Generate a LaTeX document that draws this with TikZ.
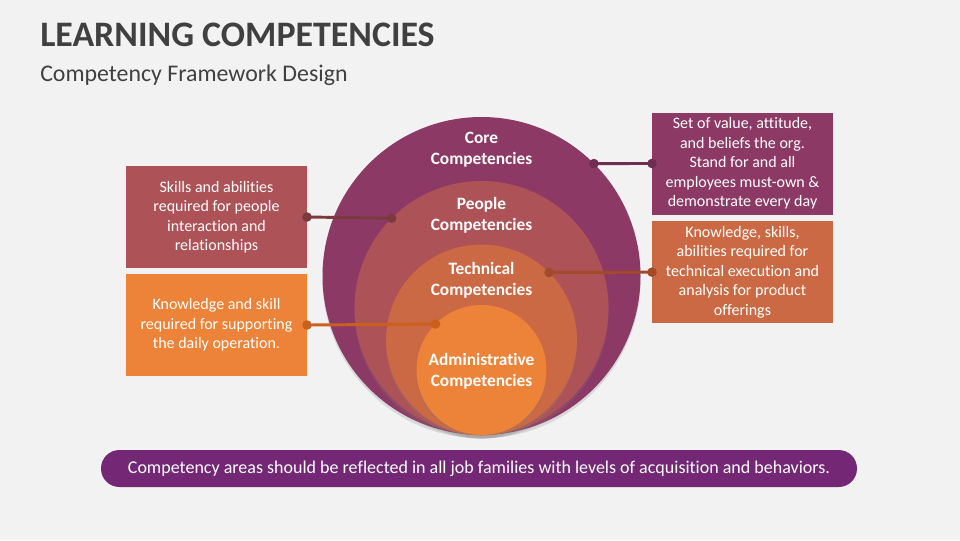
\documentclass[tikz,border=0pt]{standalone}
\usepackage{fontspec}
\setmainfont{Carlito}[Ligatures=NoCommon]
\usepackage{xcolor}
\usetikzlibrary{arrows.meta,positioning,shadows}

\definecolor{pageBg}{HTML}{F2F2F2}
\definecolor{titleGray}{HTML}{404040}
\definecolor{coreCol}{HTML}{8C3A65}
\definecolor{peopleCol}{HTML}{AD5257}
\definecolor{techCol}{HTML}{CB6944}
\definecolor{adminCol}{HTML}{ED8339}
\definecolor{coreLink}{HTML}{6E2E50}
\definecolor{peopleLink}{HTML}{7B3A3E}
\definecolor{techLink}{HTML}{A4492A}
\definecolor{adminLink}{HTML}{C9601E}
\definecolor{bannerCol}{HTML}{732774}

\begin{document}
\begin{tikzpicture}[
  x=0.75pt, y=-0.75pt,
  ring/.style={circle, draw=none, inner sep=0pt, outer sep=0pt,
    drop shadow={opacity=0.22, shadow xshift=0pt, shadow yshift=-2.5pt}},
  ringText/.style={align=center, text=white, inner sep=0pt,
    font=\bfseries\fontsize{13}{15.75}\selectfont},
  descBox/.style={rectangle, inner sep=0pt, outer sep=0pt, text=white, align=center,
    minimum width=135.75pt, minimum height=76.5pt, font=\fontsize{12}{14.6}\selectfont},
  link/.style={line width=2.2pt, {Circle[length=7pt]}-{Circle[length=7pt]},
    shorten <=-3.5pt, shorten >=-3.5pt},
  banner/.style={rectangle, rounded corners=13.8pt, fill=bannerCol, text=white,
    minimum width=567pt, minimum height=27.75pt, inner sep=0pt,
    font=\fontsize{13.5}{15}\selectfont}
]
  \fill[pageBg] (0,0) rectangle (960,540);

  \node[anchor=base west, inner sep=0pt, text=titleGray,
    font=\bfseries\fontsize{26.9}{32}\selectfont] (title) at (40,46) {LEARNING COMPETENCIES};
  \node[anchor=base west, inner sep=0pt, text=titleGray,
    font=\fontsize{17.9}{22}\selectfont] (subtitle) at (40,81) {Competency Framework Design};

  \node[ring, fill=coreCol, minimum size=238.5pt] (core) at (481.5,276) {};
  \node[ring, fill=peopleCol, minimum size=190.5pt] (people) at (481.5,308) {};
  \node[ring, fill=techCol, minimum size=143.25pt] (tech) at (481.5,340) {};
  \node[ring, fill=adminCol, minimum size=97.5pt] (admin) at (481.5,370) {};

  \node[ringText] (coreLbl) at (481.5,150) {Core\\Competencies};
  \node[ringText] (peopleLbl) at (481.5,215) {People\\Competencies};
  \node[ringText] (techLbl) at (481.5,280) {Technical\\Competencies};
  \node[ringText] (adminLbl) at (481.5,371) {Administrative\\Competencies};

  \node[descBox, fill=peopleCol] (peopleTxt) at (216.5,217)
    {Skills and abilities\\required for people\\interaction and\\relationships};
  \node[descBox, fill=adminCol, below=4.5pt of peopleTxt] (adminTxt)
    {Knowledge and skill\\required for supporting\\the daily operation.};
  \node[descBox, fill=coreCol] (coreTxt) at (742.5,163.5)
    {Set of value, attitude,\\and beliefs the org.\\Stand for and all\\employees must-own \&\\demonstrate every day};
  \node[descBox, fill=techCol, below=5pt of coreTxt] (techTxt)
    {Knowledge, skills,\\abilities required for\\technical execution and\\analysis for product\\offerings};

  \draw[link, coreLink] (core.45) -- (coreTxt.west);
  \draw[link, peopleLink] (peopleTxt.east) -- (people.135);
  \draw[link, techLink] (tech.45) -- (techTxt.west);
  \draw[link, adminLink] (adminTxt.east) -- (admin.135);

  \node[banner] (note) at (479,468.5)
    {Competency areas should be reflected in all job families with levels of acquisition and behaviors.};
\end{tikzpicture}
\end{document}
